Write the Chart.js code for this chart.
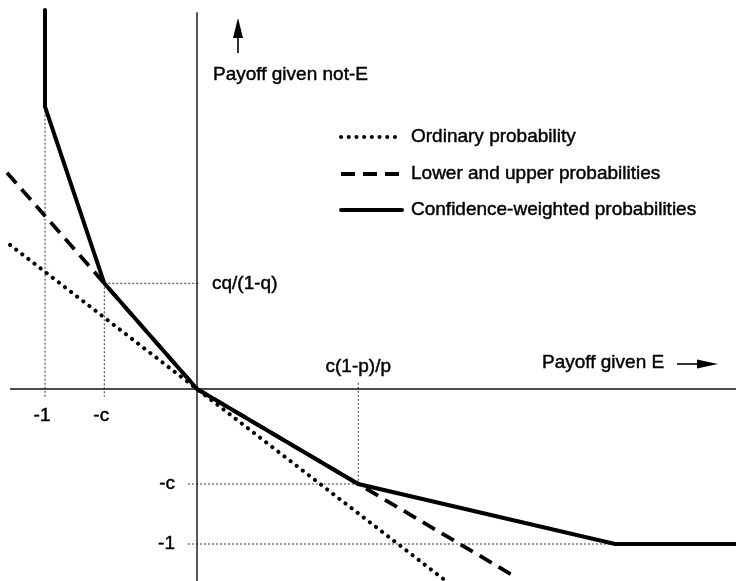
<!DOCTYPE html>
<html><head><meta charset="utf-8">
<script src="https://cdn.jsdelivr.net/npm/chart.js@4"></script>
<style>html,body{margin:0;padding:0;background:#fff}#wrap{width:736px;height:581px;position:relative}</style>
</head><body><div id="wrap"><canvas id="c"></canvas></div>
<script>
// ---- data (units: x = payoff given E, y = payoff given not-E) ----
const seriesNames = ['Ordinary probability', 'Lower and upper probabilities', 'Confidence-weighted probabilities'];
const ordinaryX = [-1.23, 1.62];
const ordinaryY = [0.93, -1.225];
const boundsX = [-1.25, -0.61, 0, 1.061, 2.10];
const boundsY = [1.395, 0.682, 0, -0.613, -1.215];
const confX = [-1, -1, -0.61, 0, 1.061, 2.75, 3.6];
const confY = [2.445, 1.821, 0.682, 0, -0.613, -1, -1];
const xTickValues = [-1, -0.61];
const xTickLabels = ['-1', '-c'];
const yTickValues = [-0.613, -1];
const yTickLabels = ['-c', '-1'];
const kinkLabels = ['cq/(1-q)', 'c(1-p)/p'];
const kinkValues = [0.682, 1.061];
const axisTitles = ['Payoff given not-E', 'Payoff given E'];
// dotted guide segments [x1, y1, x2, y2]
const guideX1 = [-1, -0.61, -0.61, 1.061, -0.06, -0.06];
const guideY1 = [1.821, 0.682, 0.682, 0.04, -0.613, -1];
const guideX2 = [-1, -0.61, 0.02, 1.061, 1.061, 2.75];
const guideY2 = [-0.05, -0.05, 0.682, -0.613, -0.613, -1];
// axis lines
const axisX1 = [-1.23, 0];
const axisY1 = [0, 2.43];
const axisX2 = [3.6, 0];
const axisY2 = [0, -1.3];

const pts = (xs, ys) => xs.map((x, i) => ({x: x, y: ys[i]}));
const FONT = '19px "Liberation Sans", Arial, Helvetica, sans-serif';

const datasets = [];
guideX1.forEach((x, i) => datasets.push({
  data: [{x: x, y: guideY1[i]}, {x: guideX2[i], y: guideY2[i]}],
  borderColor: '#333', borderWidth: 1, borderDash: [2, 2], pointRadius: 0, showLine: true, order: 10
}));
axisX1.forEach((x, i) => datasets.push({
  data: [{x: x, y: axisY1[i]}, {x: axisX2[i], y: axisY2[i]}],
  borderColor: '#111', borderWidth: 1.4, pointRadius: 0, showLine: true, order: 9
}));
datasets.push({label: seriesNames[0], data: pts(ordinaryX, ordinaryY), borderColor: '#000', borderWidth: 4,
  borderDash: [0.1, 7.6], borderCapStyle: 'round', pointRadius: 0, showLine: true, order: 3});
datasets.push({label: seriesNames[1], data: pts(boundsX, boundsY), borderColor: '#000', borderWidth: 3.8,
  borderDash: [14, 8], borderCapStyle: 'butt', pointRadius: 0, showLine: true, order: 2});
datasets.push({label: seriesNames[2], data: pts(confX, confY), borderColor: '#000', borderWidth: 4,
  borderJoinStyle: 'miter', borderCapStyle: 'round', pointRadius: 0, showLine: true, order: 1});

const decor = {
  id: 'decor',
  afterDatasetsDraw(chart) {
    const ctx = chart.ctx, xs = chart.scales.x, ys = chart.scales.y;
    const X = v => xs.getPixelForValue(v), Y = v => ys.getPixelForValue(v);
    ctx.save();
    ctx.fillStyle = '#000'; ctx.strokeStyle = '#000';
    ctx.font = FONT; ctx.textBaseline = 'middle';
    const txt = (s, x, y) => { ctx.lineWidth = 0.45; ctx.fillText(s, x, y); ctx.strokeText(s, x, y); };
    // x tick labels
    ctx.textAlign = 'center';
    xTickValues.forEach((v, i) => txt(xTickLabels[i], X(v) - 3, Y(0) + 27));
    // y tick labels
    ctx.textAlign = 'right';
    yTickValues.forEach((v, i) => txt(yTickLabels[i], X(0) - 22, Y(v)));
    // kink labels
    ctx.textAlign = 'left';
    txt(kinkLabels[0], X(0) + 15, Y(kinkValues[0]));
    ctx.textAlign = 'center';
    txt(kinkLabels[1], X(kinkValues[1]), Y(0) - 22);
    // axis titles
    ctx.textAlign = 'left';
    txt(axisTitles[0], X(0) + 16, 75);
    txt(axisTitles[1], 542, Y(0) - 26);
    // up arrow
    ctx.lineWidth = 1.6;
    ctx.beginPath(); ctx.moveTo(238, 53); ctx.lineTo(238, 36); ctx.stroke();
    ctx.beginPath(); ctx.moveTo(238, 18); ctx.lineTo(243, 38); ctx.lineTo(233, 38); ctx.closePath(); ctx.fill();
    // right arrow
    const ay = Y(0) - 25;
    ctx.beginPath(); ctx.moveTo(677, ay); ctx.lineTo(700, ay); ctx.stroke();
    ctx.beginPath(); ctx.moveTo(718, ay); ctx.lineTo(697, ay - 4.5); ctx.lineTo(697, ay + 4.5); ctx.closePath(); ctx.fill();
    // legend
    const rows = [137, 174, 210];
    const lx1 = 341, lx2 = 402;
    chart.data.datasets.filter(d => d.label).forEach((d, i) => {
      ctx.save();
      ctx.lineWidth = d.borderWidth;
      ctx.lineCap = d.borderCapStyle || 'butt';
      ctx.setLineDash(d.borderDash || []);
      ctx.beginPath(); ctx.moveTo(lx1, rows[i]); ctx.lineTo(lx2, rows[i]); ctx.stroke();
      ctx.restore();
      ctx.textAlign = 'left';
      txt(d.label, 411, rows[i]);
    });
    ctx.restore();
  }
};

new Chart(document.getElementById('c'), {
  type: 'scatter',
  data: {datasets: datasets},
  options: {
    responsive: true, maintainAspectRatio: false, animation: false,
    layout: {padding: 0},
    plugins: {legend: {display: false}, tooltip: {enabled: false}},
    scales: {
      x: {type: 'linear', display: false, min: -1.2961, max: 3.5461},
      y: {type: 'linear', display: false, min: -1.2387, max: 2.5097}
    }
  },
  plugins: [decor]
});
</script>
</body></html>
